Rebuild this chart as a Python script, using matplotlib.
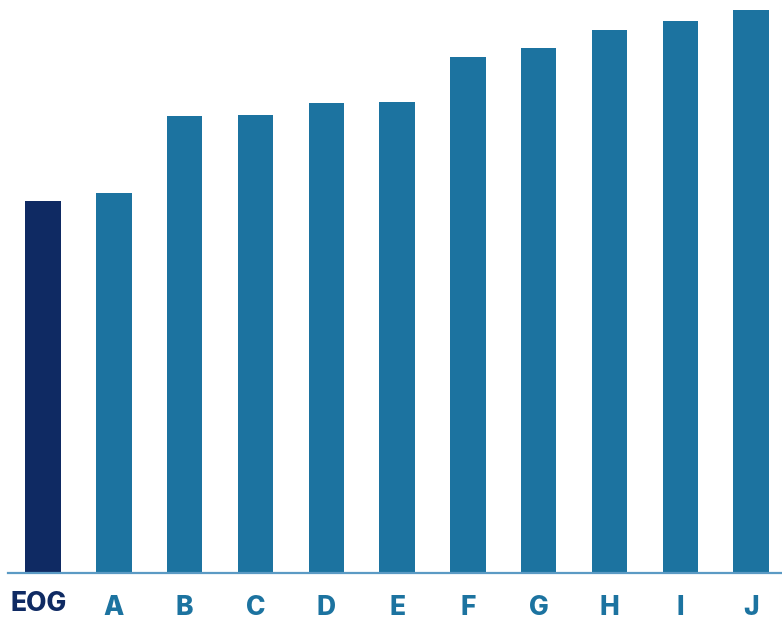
import matplotlib.pyplot as plt
import matplotlib.transforms as mtransforms
import numpy as np

# Bar heights per company (peer group ranked, EOG highlighted)
labels = ['EOG', 'A', 'B', 'C', 'D', 'E', 'F', 'G', 'H', 'I', 'J']
values = [372, 380, 457, 458, 470, 471, 516, 525, 543, 552, 563]

eog_color = '#0f2a63'
peer_color = '#1c73a0'
colors = [eog_color] + [peer_color] * (len(labels) - 1)

fig = plt.figure(figsize=(7.82, 6.2), dpi=100)
ax = fig.add_axes([7.6 / 782, 47 / 620, 779 / 782, 573 / 620])

x = np.arange(len(labels))
ax.bar(x, values, width=0.5, color=colors, zorder=2)

ax.set_xlim(-0.5, 10.5)
ax.set_ylim(0, 573)

for side in ['top', 'right', 'left']:
    ax.spines[side].set_visible(False)
ax.spines['bottom'].set_color('#5b9ac4')
ax.spines['bottom'].set_linewidth(1.6)
ax.spines['bottom'].set_zorder(3)

ax.set_yticks([])
ax.set_xticks(x)
ax.set_xticklabels(labels, fontfamily=['Inter', 'DejaVu Sans'],
                   fontweight='heavy', fontsize=19)
ax.tick_params(axis='x', length=0, pad=15.5)
for lbl, c in zip(ax.get_xticklabels(), colors):
    lbl.set_color(c)

# EOG label sits a bit left and higher than the peer labels
first = ax.get_xticklabels()[0]
first.set_transform(first.get_transform() +
                    mtransforms.ScaledTranslation(-0.045, 0.04, fig.dpi_scale_trans))

fig.savefig('out.png', dpi=100)
